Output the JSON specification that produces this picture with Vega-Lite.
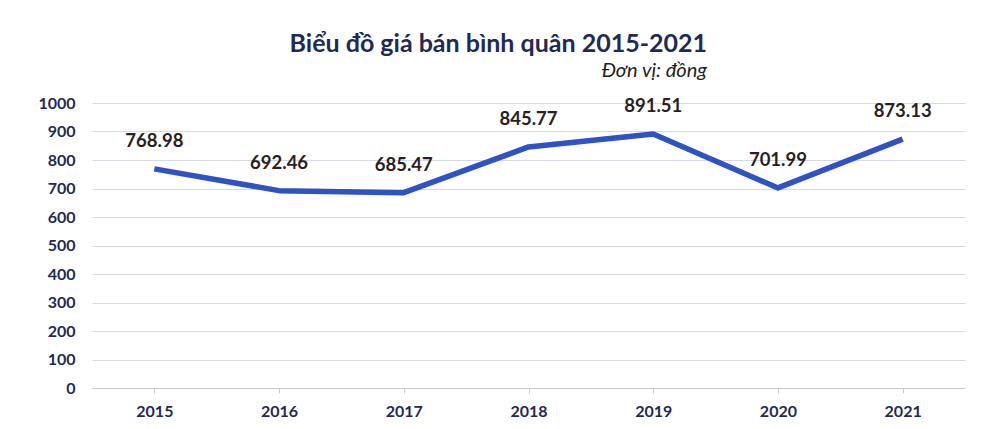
{
  "$schema": "https://vega.github.io/schema/vega-lite/v6.json",
  "width": 873,
  "height": 285,
  "autosize": "none",
  "padding": {"left": 92, "top": 103, "right": 23, "bottom": 41},
  "background": "white",
  "title": {
    "text": "Biểu đồ giá bán bình quân 2015-2021",
    "subtitle": "Đơn vị: đồng",
    "anchor": "end",
    "dx": -258,
    "offset": 14,
    "font": "Lato",
    "fontSize": 25,
    "fontWeight": "bold",
    "color": "#1f2a55",
    "subtitleFont": "Lato",
    "subtitleFontSize": 20,
    "subtitleFontStyle": "italic",
    "subtitleColor": "#222222",
    "subtitlePadding": 4
  },
  "data": {
    "values": [
      {"year": "2015", "price": 768.98},
      {"year": "2016", "price": 692.46},
      {"year": "2017", "price": 685.47},
      {"year": "2018", "price": 845.77},
      {"year": "2019", "price": 891.51},
      {"year": "2020", "price": 701.99},
      {"year": "2021", "price": 873.13}
    ]
  },
  "encoding": {
    "x": {
      "field": "year",
      "type": "ordinal",
      "scale": {"paddingInner": 0, "paddingOuter": 0},
      "axis": {
        "title": null,
        "labelAngle": 0,
        "labelFont": "Lato",
        "labelFontSize": 16,
        "labelFontWeight": "bold",
        "labelColor": "#1f2a55",
        "labelPadding": 10,
        "domainColor": "#c8cbd6",
        "tickColor": "#c8cbd6",
        "tickSize": 5,
        "bandPosition": 0,
        "grid": false
      }
    },
    "y": {
      "field": "price",
      "type": "quantitative",
      "scale": {"domain": [0, 1000], "nice": false},
      "axis": {
        "title": null,
        "format": "d",
        "values": [0, 100, 200, 300, 400, 500, 600, 700, 800, 900, 1000],
        "labelFont": "Lato",
        "labelFontSize": 16,
        "labelFontWeight": "bold",
        "labelColor": "#1f2a55",
        "labelPadding": 17,
        "domain": false,
        "ticks": false,
        "gridColor": "#d7dae6",
        "gridWidth": 1
      }
    }
  },
  "layer": [
    {
      "mark": {"type": "line", "color": "#2f52c4", "strokeWidth": 5.5, "strokeJoin": "round", "strokeCap": "butt"}
    },
    {
      "mark": {
        "type": "text",
        "dy": -28,
        "font": "Lato",
        "fontSize": 18.5,
        "fontWeight": "bold",
        "color": "#2a1e1e",
        "baseline": "middle"
      },
      "encoding": {
        "text": {"field": "price", "type": "quantitative", "format": ".2f"}
      }
    }
  ],
  "config": {"view": {"stroke": null}}
}
